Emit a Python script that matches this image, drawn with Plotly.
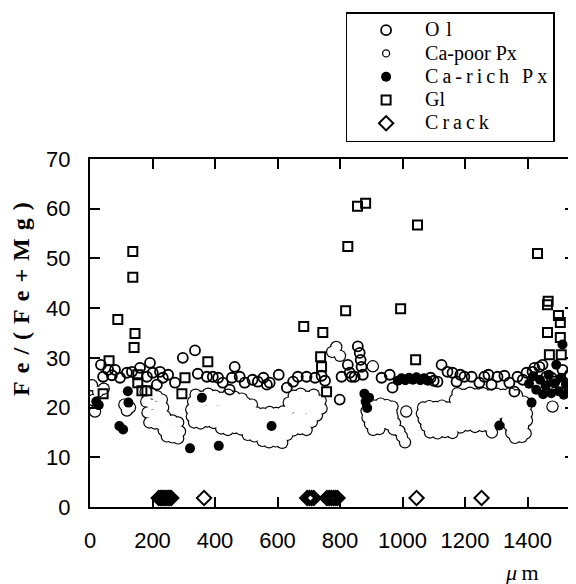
import plotly.graph_objects as go

# ---------------- data ----------------
ol_pts = [(35,28.6),(58,27.6),(80,27.6),(42,26.2),(70,26.5),(96,26.0),(118,27.0),(134,27.2),
          (160,28.0),(182,26.2),(192,29.0),(201,27.0),(214,24.6),(224,27.2),(233,26.0),(250,26.6),
          (272,25.0),(297,30.0),(336,31.5),(345,26.8),(374,26.2),(393,26.2),(410,26.0),(425,25.0),
          (447,23.6),(463,28.2),(454,26.0),(479,26.2),(495,25.0),(520,25.6),(537,25.2),(555,26.0),
          (566,24.6),(575,25.0),(604,26.6),(630,24.0),(650,25.2),(665,26.2),(693,26.2),(720,26.0),
          (741,26.4),(752,25.4),(799,21.6),(805,26.2),(825,28.6),(831,27.0),(837,26.2),(847,26.2),
          (857,32.3),(863,31.0),(866,29.6),(869,28.2),(873,26.6),(933,26.0),(959,26.6),(968,24.0),
          (1090,26.0),(1100,25.4),(1112,25.2),(1125,28.6),(1144,27.2),(1160,27.0),(1173,25.2),
          (1185,26.6),(1198,26.2),(1221,26.2),(1246,25.0),(1262,26.2),(1275,26.6),(1285,24.6),
          (1304,26.2),(1326,26.4),(1342,25.0),(1358,23.2),(1368,26.2),(1385,25.6),(1397,27.0),
          (1416,27.2),(1422,28.0),(1438,28.2),(1448,28.6),(1460,26.2),(1477,26.0),(1486,25.2),
          (1512,27.6),(1535,26.6)]

capoor_pts = [
    # near the left edge
    (6,24.5),(10,21.5),(16,19.2),(26,23.2),(44,23.8),(110,20.6),(118,19.4),(128,20.0),
    # cloud 1
    (178,23.2),(196,22.8),(214,22.3),(230,21.6),(180,21.2),(198,20.6),(216,20.2),(234,20.0),
    (184,19.0),(202,18.6),(220,18.4),(240,18.3),(190,17.0),(208,16.8),(226,16.6),(246,17.2),
    (264,17.4),(282,17.0),(236,15.4),(254,15.6),(272,15.6),(288,15.2),(246,14.2),(264,14.0),(282,13.8),
    # cloud 2
    (338,22.6),(358,22.2),(378,22.8),(400,22.4),(420,22.0),(442,22.6),(462,22.2),(486,21.8),
    (652,22.4),(674,22.8),(694,22.2),(716,22.6),
    (330,21.2),(350,20.8),(371,21.4),(392,21.0),(413,21.3),(434,20.9),(455,21.1),(476,20.8),
    (497,21.0),(518,20.6),(636,21.0),(657,21.3),(678,20.9),(699,21.2),(720,20.8),(738,21.4),
    (324,19.6),(344,19.9),(365,19.5),(386,19.8),(407,19.4),(428,19.7),(449,19.5),(470,19.8),
    (491,19.4),(512,19.6),(533,19.0),(554,18.8),(575,19.1),(596,18.9),(617,19.2),(638,19.6),
    (659,19.9),(680,19.5),(701,19.7),(722,19.3),(741,19.8),
    (326,18.2),(347,18.5),(368,18.1),(389,18.4),(410,18.0),(431,18.3),(452,18.1),(473,18.4),
    (494,18.0),(515,18.2),(536,17.9),(557,18.1),(578,17.8),(599,18.0),(620,18.3),(641,17.9),
    (662,18.2),(683,17.8),(704,18.1),(726,18.4),
    (333,17.0),(354,16.8),(375,17.2),(396,16.9),(417,17.1),(438,16.8),(459,17.0),(480,16.7),
    (501,17.0),(522,16.8),(543,17.1),(564,16.8),(606,16.9),(627,17.2),(648,16.8),(669,17.0),
    (690,16.7),(710,17.1),
    (420,15.8),(441,15.5),(462,15.9),(483,15.6),(504,15.8),(525,15.5),(546,15.8),(567,15.4),
    (588,15.7),(609,15.5),(630,15.8),(651,15.4),(672,15.7),(693,15.5),
    (505,14.5),(526,14.2),(547,14.6),(568,14.3),(589,14.5),(610,14.2),(631,14.5),
    (552,13.3),(573,13.0),(594,13.2),(615,12.9),
    # upper small group
    (775,31.2),(788,32.2),(800,30.4),(905,28.3),
    # cloud 3
    (890,20.6),(910,20.4),(930,20.8),(950,20.5),(968,20.2),
    (885,19.3),(905,19.1),(925,19.4),(945,19.2),(965,19.0),
    (888,18.0),(908,17.8),(928,18.1),(948,17.9),(968,18.2),
    (896,16.7),(916,16.5),(936,16.8),(956,16.6),(976,16.9),
    (906,15.5),(926,15.7),(972,15.6),(990,15.3),(998,14.2),(1008,13.0),(1012,19.2),
    # cloud 4
    (1176,22.9),(1196,22.6),(1216,23.0),(1237,22.7),(1258,22.9),(1280,22.5),(1301,22.8),
    (1322,22.6),(1344,22.9),(1366,22.5),
    (1168,21.6),(1188,21.3),(1208,21.7),(1228,21.4),(1248,21.6),(1268,21.2),(1288,21.5),
    (1308,21.3),(1328,21.6),(1348,21.4),(1368,21.7),(1388,21.2),
    (1066,20.0),(1086,20.3),(1106,20.1),(1126,20.4),(1146,20.0),(1166,20.2),(1186,20.4),
    (1206,20.0),(1226,20.3),(1248,20.1),(1270,20.4),(1292,20.0),(1314,20.3),(1336,20.1),
    (1356,20.4),(1376,20.0),(1396,20.3),
    (1062,18.8),(1082,19.0),(1102,18.7),(1122,19.1),(1142,18.8),(1162,19.0),(1182,18.7),
    (1202,19.1),(1222,18.8),(1244,19.0),(1266,18.7),(1288,19.1),(1310,18.8),(1332,19.0),
    (1354,18.7),(1376,19.1),(1398,18.8),
    (1068,17.6),(1088,17.3),(1108,17.7),(1128,17.4),(1148,17.6),(1168,17.3),(1188,17.7),
    (1208,17.4),(1230,17.6),(1252,17.3),(1274,17.7),(1296,17.4),(1334,17.6),(1356,17.3),
    (1378,17.7),(1398,17.4),
    (1076,16.3),(1098,16.0),(1120,16.4),(1142,16.1),(1164,16.3),(1186,16.0),(1208,16.4),
    (1232,16.1),(1256,16.3),(1280,16.0),(1342,16.4),(1364,16.1),(1386,16.3),
    (1088,15.0),(1112,14.8),(1136,15.1),(1160,14.9),(1286,15.0),(1348,14.9),(1372,15.1),(1394,14.8),
    (1360,13.9),(1382,14.1),
    (1480,20.2)]

carich_pts = [(20,21.2),(28,20.5),(94,16.3),(106,15.6),(121,23.3),(123,21.0),(320,11.8),(358,22.0),
              (412,12.3),(581,16.3),(878,22.8),(882,21.2),(887,19.9),(893,22.0),
              (985,25.4),(997,25.9),(1009,25.5),(1021,26.0),(1033,25.6),(1045,26.1),(1057,25.5),
              (1069,25.9),(1081,25.4),(1310,16.4),
              (1405,24.8),(1413,21.0),(1418,26.3),(1428,23.6),(1440,25.6),(1450,22.7),(1458,24.4),
              (1468,26.6),(1476,22.9),(1485,24.9),(1492,28.6),(1500,23.3),(1508,26.0),(1512,32.7),
              (1516,22.6),(1523,24.6),(1532,23.9)]

gl_pts = [(42,22.8),(61,29.4),(89,37.7),(137,51.4),(137,46.2),(144,34.9),(141,32.1),(153,26.6),
          (153,25.0),(166,23.4),(182,23.4),(294,22.8),(304,26.0),(377,29.2),(684,36.3),(738,30.2),
          (741,28.2),(745,35.1),(757,23.2),(818,39.5),(825,52.4),(856,60.5),(882,61.1),(994,39.9),
          (1042,29.6),(1048,56.7),(1432,51.0),(1464,40.7),(1466,41.4),(1499,38.5),(1505,37.1),
          (1464,35.1),(1505,34.1),(1470,30.6),(1508,30.6)]

crack_x = [220,225,230,235,240,245,250,255,260,365,695,702,709,716,758,765,772,779,786,792,1045,1253]
crack_y = [1.8]*len(crack_x)

x_ticks = [0,200,400,600,800,1000,1200,1400]
y_ticks = [0,10,20,30,40,50,60,70]

names = ["O\u2004l", "Ca-poor Px",
         "C\u2009a\u2009-\u2009r\u2009i\u2009c\u2009h\u2009 \u2009P\u2009x",
         "Gl", "C\u2009r\u2009a\u2009c\u2009k"]

def xs(p): return [a for a, b in p]
def ys(p): return [b for a, b in p]
def lab(s): return '<span style="font-size:20px">' + s + '</span>'

fig = go.Figure()
# Ca-poor Px: outline layer then white fill layer (only the outer outline of a cluster stays visible)
fig.add_trace(go.Scatter(x=xs(capoor_pts), y=ys(capoor_pts), mode="markers", showlegend=False,
                         legendgroup="cp", hoverinfo="skip",
                         marker=dict(symbol="circle", size=12.4, color="black",
                                     line=dict(width=0))))
fig.add_trace(go.Scatter(x=xs(capoor_pts), y=ys(capoor_pts), mode="markers", showlegend=False,
                         legendgroup="cp",
                         marker=dict(symbol="circle", size=10, color="white",
                                     line=dict(width=0))))
fig.add_trace(go.Scatter(x=[None], y=[None], mode="markers", name=lab(names[1]),
                         legendgroup="cp", legendrank=2,
                         marker=dict(symbol="circle", size=7, color="white",
                                     line=dict(color="black", width=1.3))))
fig.add_trace(go.Scatter(x=xs(ol_pts), y=ys(ol_pts), mode="markers", name=lab(names[0]),
                         legendrank=1,
                         marker=dict(symbol="circle-open", size=10, color="black",
                                     line=dict(color="black", width=1.8))))
fig.add_trace(go.Scatter(x=xs(carich_pts), y=ys(carich_pts), mode="markers",
                         name=lab(names[2]), legendrank=3,
                         marker=dict(symbol="circle", size=10, color="black",
                                     line=dict(color="black", width=0))))
fig.add_trace(go.Scatter(x=xs(gl_pts), y=ys(gl_pts), mode="markers", name=lab(names[3]),
                         legendrank=4,
                         marker=dict(symbol="square-open", size=9, color="black",
                                     line=dict(color="black", width=2))))
fig.add_trace(go.Scatter(x=crack_x, y=crack_y, mode="markers", name=lab(names[4]),
                         legendrank=5,
                         marker=dict(symbol="diamond-open", size=11, color="black",
                                     line=dict(color="black", width=2))))

axis_common = dict(showline=True, linecolor="black", linewidth=2, mirror="ticks",
                   ticks="inside", ticklen=10, tickwidth=2, tickcolor="black",
                   showgrid=False, zeroline=False,
                   tickfont=dict(family="Liberation Sans", size=22, color="black"))

# the page body adds an 8px margin; the figure is sized/offset so the plot lands as in the reference
fig.update_layout(
    width=568, height=576,
    margin=dict(l=82, r=1, t=151, b=77, autoexpand=False),
    paper_bgcolor="white", plot_bgcolor="white",
    xaxis=dict(range=[0, 1552], tickvals=x_ticks, ticklabelstandoff=13, **axis_common),
    yaxis=dict(range=[0, 70], tickvals=y_ticks, ticklabelstandoff=13, **axis_common),
    legend=dict(x=0.527, y=1.4224, xanchor="left", yanchor="top",
                bordercolor="black", borderwidth=1.5, bgcolor="white",
                font=dict(family="Liberation Serif", size=15.6, color="black"),
                itemwidth=68, tracegroupgap=0),
    showlegend=True,
)

fig.add_annotation(text="F\u2004e\u2004/\u2004(\u2004F\u2004e\u2004+\u2004M\u2004g\u2004)",
                   xref="paper", yref="paper", x=-0.1426, y=0.5975,
                   textangle=-90, showarrow=False, xanchor="center", yanchor="middle",
                   font=dict(family="Liberation Serif", size=24, color="black", weight="bold"))
fig.add_annotation(text="<i>\u03bc</i>\u2009m", xref="paper", yref="paper", x=0.89, y=-0.187,
                   showarrow=False, xanchor="center", yanchor="middle",
                   font=dict(family="Liberation Serif", size=22, color="black"))

fig.write_html("out.html")
